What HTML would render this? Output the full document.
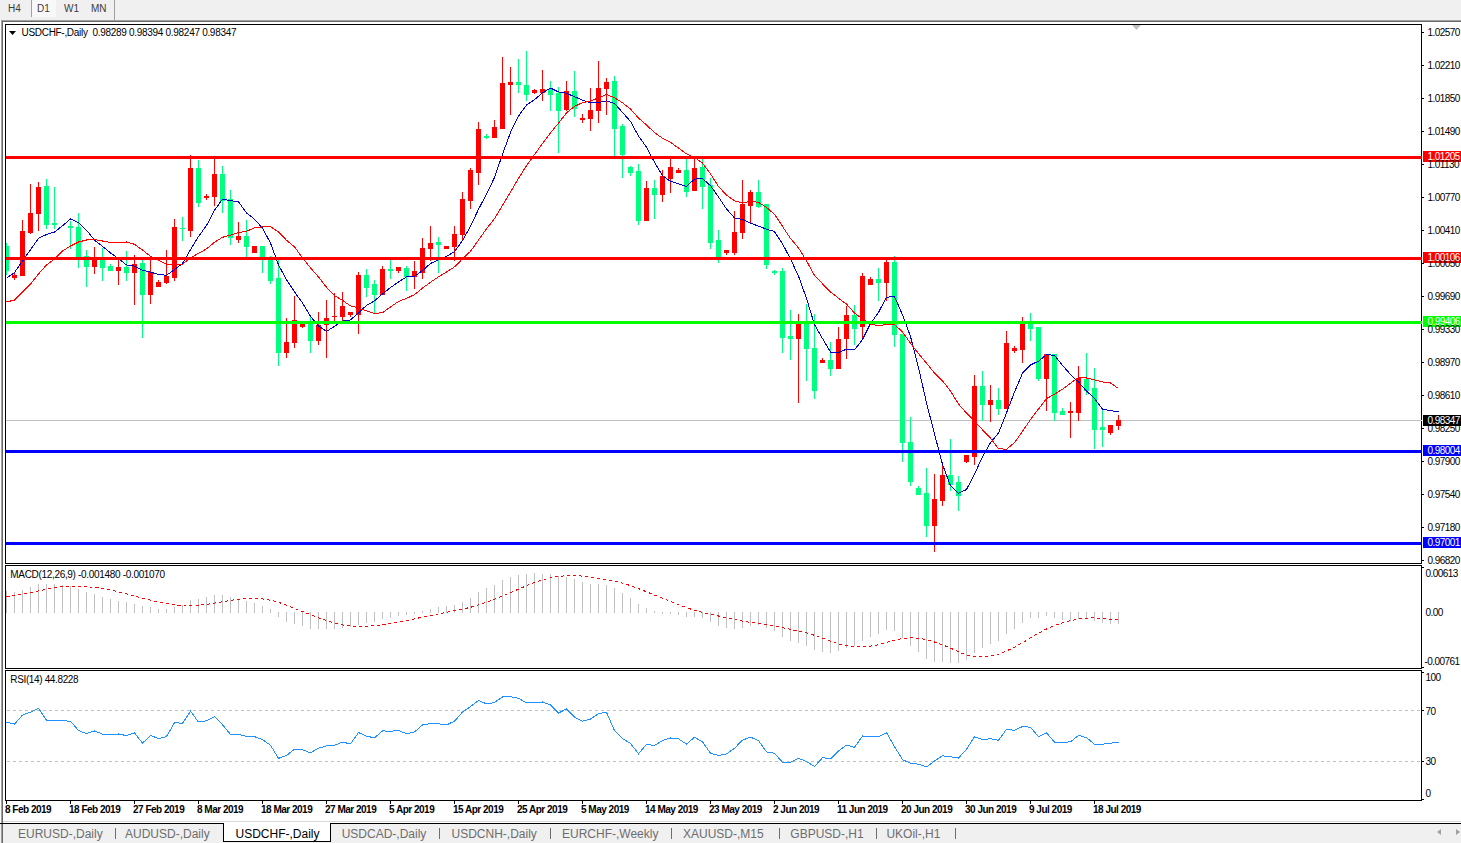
<!DOCTYPE html>
<html><head><meta charset="utf-8"><style>
html,body{margin:0;padding:0;background:#fff;width:1461px;height:843px;overflow:hidden;position:relative;font-family:"Liberation Sans", sans-serif;}
.tb{position:absolute;left:0;top:0;width:1461px;height:20px;background:#f0f0f0;}
.tbt{position:absolute;top:3px;font-size:10px;color:#3c3c3c;letter-spacing:0px;line-height:12px;}
.bar{position:absolute;left:0;top:823px;width:1461px;height:20px;background:#f0f0f0;border-top:1px solid #000;box-sizing:border-box;}
.tab{position:absolute;top:827px;font-size:12px;line-height:15px;color:#6d6d6d;white-space:pre;}
.sep{position:absolute;top:828px;width:1px;height:11px;background:#6d6d6d;}
</style></head><body>
<div class="tb"></div>
<div style="position:absolute;left:31px;top:0;width:1px;height:17px;background:#a0a0a0"></div>
<div style="position:absolute;left:32px;top:0;width:24px;height:17px;background:#f8f8f8"></div>
<div style="position:absolute;left:114px;top:0;width:1px;height:20px;background:#a0a0a0"></div>
<div class="tbt" style="left:8px">H4</div>
<div class="tbt" style="left:37px">D1</div>
<div class="tbt" style="left:64px">W1</div>
<div class="tbt" style="left:91px">MN</div>
<div style="position:absolute;left:1px;top:20px;width:1460px;height:1px;background:#a0a0a0"></div>
<div style="position:absolute;left:1px;top:21px;width:1460px;height:1px;background:#696969"></div>
<div style="position:absolute;left:1px;top:20px;width:1px;height:803px;background:#a0a0a0"></div>
<div style="position:absolute;left:2px;top:21px;width:1px;height:802px;background:#696969"></div>
<div style="position:absolute;left:3px;top:821px;width:1458px;height:1px;background:#d8d8d8"></div>
<div class="bar"></div>
<div style="position:absolute;left:1px;top:824px;width:1px;height:19px;background:#a0a0a0"></div>
<div style="position:absolute;left:2px;top:824px;width:1px;height:19px;background:#696969"></div>
<div class="tab" style="left:18px">EURUSD-,Daily</div><div class="sep" style="left:115px"></div><div class="tab" style="left:125px">AUDUSD-,Daily</div><div class="tab" style="left:341.7px">USDCAD-,Daily</div><div class="sep" style="left:439px"></div><div class="tab" style="left:451.5px">USDCNH-,Daily</div><div class="sep" style="left:550px"></div><div class="tab" style="left:562px">EURCHF-,Weekly</div><div class="sep" style="left:671px"></div><div class="tab" style="left:683px">XAUUSD-,M15</div><div class="sep" style="left:779px"></div><div class="tab" style="left:790.3px">GBPUSD-,H1</div><div class="sep" style="left:876px"></div><div class="tab" style="left:886.4px">UKOil-,H1</div><div class="sep" style="left:955px"></div>
<div style="position:absolute;left:223px;top:823px;width:108px;height:19px;background:#fff;border:1px solid #000;border-top:none;box-sizing:border-box"></div>
<div class="tab" style="left:235.5px;color:#000">USDCHF-,Daily</div>
<div style="position:absolute;left:1437px;top:829px;width:0;height:0;border-top:3.5px solid transparent;border-bottom:3.5px solid transparent;border-right:4px solid #a0a0a0"></div>
<div style="position:absolute;left:1456px;top:829px;width:0;height:0;border-top:3.5px solid transparent;border-bottom:3.5px solid transparent;border-left:4px solid #a0a0a0"></div>
<svg width="1461" height="843" style="position:absolute;left:0;top:0" shape-rendering="crispEdges">
<defs><clipPath id="cm"><rect x="6" y="25" width="1415" height="538"/></clipPath><clipPath id="cd"><rect x="6" y="566" width="1415" height="102"/></clipPath><clipPath id="cr"><rect x="6" y="671" width="1415" height="129"/></clipPath></defs>
<g clip-path="url(#cm)">
<rect x="6" y="420" width="1415" height="1" fill="#c0c0c0"/>
<rect x="6" y="243" width="1" height="32" fill="#00ff7f"/>
<rect x="4" y="246" width="5" height="25" fill="#00ff7f"/>
<rect x="14" y="272" width="1" height="8" fill="#ff0000"/>
<rect x="12" y="275" width="5" height="3" fill="#ff0000"/>
<rect x="22" y="220" width="1" height="56" fill="#ff0000"/>
<rect x="20" y="231" width="5" height="45" fill="#ff0000"/>
<rect x="30" y="184" width="1" height="50" fill="#ff0000"/>
<rect x="28" y="213" width="5" height="20" fill="#ff0000"/>
<rect x="38" y="182" width="1" height="49" fill="#ff0000"/>
<rect x="36" y="187" width="5" height="27" fill="#ff0000"/>
<rect x="46" y="179" width="1" height="50" fill="#00ff7f"/>
<rect x="44" y="186" width="5" height="39" fill="#00ff7f"/>
<rect x="54" y="187" width="1" height="42" fill="#00ff7f"/>
<rect x="52" y="223" width="5" height="2" fill="#00ff7f"/>
<rect x="70" y="221" width="1" height="28" fill="#00ff7f"/>
<rect x="68" y="226" width="5" height="2" fill="#00ff7f"/>
<rect x="78" y="213" width="1" height="55" fill="#00ff7f"/>
<rect x="76" y="227" width="5" height="30" fill="#00ff7f"/>
<rect x="86" y="250" width="1" height="37" fill="#00ff7f"/>
<rect x="84" y="256" width="5" height="11" fill="#00ff7f"/>
<rect x="94" y="247" width="1" height="27" fill="#ff0000"/>
<rect x="92" y="257" width="5" height="10" fill="#ff0000"/>
<rect x="102" y="248" width="1" height="33" fill="#00ff7f"/>
<rect x="100" y="260" width="5" height="8" fill="#00ff7f"/>
<rect x="110" y="264" width="1" height="7" fill="#00ff7f"/>
<rect x="108" y="266" width="5" height="5" fill="#00ff7f"/>
<rect x="118" y="259" width="1" height="26" fill="#ff0000"/>
<rect x="116" y="267" width="5" height="4" fill="#ff0000"/>
<rect x="126" y="251" width="1" height="30" fill="#00ff7f"/>
<rect x="124" y="267" width="5" height="6" fill="#00ff7f"/>
<rect x="134" y="255" width="1" height="50" fill="#ff0000"/>
<rect x="132" y="264" width="5" height="9" fill="#ff0000"/>
<rect x="142" y="259" width="1" height="79" fill="#00ff7f"/>
<rect x="140" y="263" width="5" height="32" fill="#00ff7f"/>
<rect x="150" y="256" width="1" height="48" fill="#ff0000"/>
<rect x="148" y="272" width="5" height="23" fill="#ff0000"/>
<rect x="158" y="280" width="1" height="7" fill="#ff0000"/>
<rect x="156" y="282" width="5" height="5" fill="#ff0000"/>
<rect x="166" y="250" width="1" height="34" fill="#ff0000"/>
<rect x="164" y="276" width="5" height="7" fill="#ff0000"/>
<rect x="174" y="219" width="1" height="62" fill="#ff0000"/>
<rect x="172" y="227" width="5" height="51" fill="#ff0000"/>
<rect x="182" y="217" width="1" height="24" fill="#00ff7f"/>
<rect x="180" y="228" width="5" height="1" fill="#00ff7f"/>
<rect x="190" y="155" width="1" height="82" fill="#ff0000"/>
<rect x="188" y="168" width="5" height="63" fill="#ff0000"/>
<rect x="198" y="160" width="1" height="47" fill="#00ff7f"/>
<rect x="196" y="168" width="5" height="35" fill="#00ff7f"/>
<rect x="206" y="194" width="1" height="6" fill="#ff0000"/>
<rect x="204" y="196" width="5" height="2" fill="#ff0000"/>
<rect x="214" y="158" width="1" height="48" fill="#ff0000"/>
<rect x="212" y="174" width="5" height="23" fill="#ff0000"/>
<rect x="222" y="166" width="1" height="47" fill="#00ff7f"/>
<rect x="220" y="174" width="5" height="27" fill="#00ff7f"/>
<rect x="230" y="190" width="1" height="55" fill="#00ff7f"/>
<rect x="228" y="199" width="5" height="39" fill="#00ff7f"/>
<rect x="238" y="222" width="1" height="21" fill="#ff0000"/>
<rect x="236" y="236" width="5" height="4" fill="#ff0000"/>
<rect x="246" y="220" width="1" height="37" fill="#00ff7f"/>
<rect x="244" y="236" width="5" height="11" fill="#00ff7f"/>
<rect x="254" y="246" width="1" height="7" fill="#ff0000"/>
<rect x="252" y="246" width="5" height="7" fill="#ff0000"/>
<rect x="262" y="246" width="1" height="27" fill="#00ff7f"/>
<rect x="260" y="246" width="5" height="13" fill="#00ff7f"/>
<rect x="270" y="256" width="1" height="28" fill="#00ff7f"/>
<rect x="268" y="258" width="5" height="23" fill="#00ff7f"/>
<rect x="278" y="260" width="1" height="106" fill="#00ff7f"/>
<rect x="276" y="278" width="5" height="75" fill="#00ff7f"/>
<rect x="286" y="318" width="1" height="40" fill="#ff0000"/>
<rect x="284" y="342" width="5" height="11" fill="#ff0000"/>
<rect x="294" y="296" width="1" height="52" fill="#ff0000"/>
<rect x="292" y="320" width="5" height="23" fill="#ff0000"/>
<rect x="302" y="323" width="1" height="5" fill="#ff0000"/>
<rect x="300" y="324" width="5" height="3" fill="#ff0000"/>
<rect x="310" y="317" width="1" height="36" fill="#00ff7f"/>
<rect x="308" y="322" width="5" height="19" fill="#00ff7f"/>
<rect x="318" y="312" width="1" height="33" fill="#ff0000"/>
<rect x="316" y="325" width="5" height="16" fill="#ff0000"/>
<rect x="326" y="300" width="1" height="58" fill="#ff0000"/>
<rect x="324" y="318" width="5" height="7" fill="#ff0000"/>
<rect x="334" y="293" width="1" height="28" fill="#ff0000"/>
<rect x="332" y="316" width="5" height="1" fill="#ff0000"/>
<rect x="342" y="292" width="1" height="29" fill="#ff0000"/>
<rect x="340" y="306" width="5" height="11" fill="#ff0000"/>
<rect x="350" y="312" width="1" height="5" fill="#ff0000"/>
<rect x="348" y="312" width="5" height="3" fill="#ff0000"/>
<rect x="358" y="272" width="1" height="62" fill="#ff0000"/>
<rect x="356" y="275" width="5" height="40" fill="#ff0000"/>
<rect x="366" y="269" width="1" height="28" fill="#00ff7f"/>
<rect x="364" y="275" width="5" height="13" fill="#00ff7f"/>
<rect x="374" y="280" width="1" height="33" fill="#00ff7f"/>
<rect x="372" y="284" width="5" height="11" fill="#00ff7f"/>
<rect x="382" y="266" width="1" height="29" fill="#ff0000"/>
<rect x="380" y="269" width="5" height="26" fill="#ff0000"/>
<rect x="390" y="260" width="1" height="19" fill="#00ff7f"/>
<rect x="388" y="269" width="5" height="2" fill="#00ff7f"/>
<rect x="398" y="267" width="1" height="6" fill="#ff0000"/>
<rect x="396" y="267" width="5" height="4" fill="#ff0000"/>
<rect x="406" y="266" width="1" height="25" fill="#00ff7f"/>
<rect x="404" y="268" width="5" height="9" fill="#00ff7f"/>
<rect x="414" y="261" width="1" height="28" fill="#ff0000"/>
<rect x="412" y="271" width="5" height="6" fill="#ff0000"/>
<rect x="422" y="238" width="1" height="41" fill="#ff0000"/>
<rect x="420" y="248" width="5" height="25" fill="#ff0000"/>
<rect x="430" y="226" width="1" height="35" fill="#ff0000"/>
<rect x="428" y="243" width="5" height="6" fill="#ff0000"/>
<rect x="438" y="237" width="1" height="36" fill="#00ff7f"/>
<rect x="436" y="242" width="5" height="3" fill="#00ff7f"/>
<rect x="446" y="246" width="1" height="3" fill="#ff0000"/>
<rect x="444" y="246" width="5" height="3" fill="#ff0000"/>
<rect x="454" y="226" width="1" height="35" fill="#ff0000"/>
<rect x="452" y="234" width="5" height="13" fill="#ff0000"/>
<rect x="462" y="192" width="1" height="48" fill="#ff0000"/>
<rect x="460" y="199" width="5" height="36" fill="#ff0000"/>
<rect x="470" y="168" width="1" height="41" fill="#ff0000"/>
<rect x="468" y="170" width="5" height="31" fill="#ff0000"/>
<rect x="478" y="122" width="1" height="63" fill="#ff0000"/>
<rect x="476" y="129" width="5" height="44" fill="#ff0000"/>
<rect x="486" y="134" width="1" height="5" fill="#00ff7f"/>
<rect x="484" y="136" width="5" height="2" fill="#00ff7f"/>
<rect x="494" y="120" width="1" height="18" fill="#ff0000"/>
<rect x="492" y="127" width="5" height="11" fill="#ff0000"/>
<rect x="502" y="57" width="1" height="72" fill="#ff0000"/>
<rect x="500" y="83" width="5" height="46" fill="#ff0000"/>
<rect x="510" y="67" width="1" height="48" fill="#ff0000"/>
<rect x="508" y="82" width="5" height="3" fill="#ff0000"/>
<rect x="518" y="59" width="1" height="34" fill="#00ff7f"/>
<rect x="516" y="82" width="5" height="3" fill="#00ff7f"/>
<rect x="526" y="51" width="1" height="50" fill="#00ff7f"/>
<rect x="524" y="85" width="5" height="10" fill="#00ff7f"/>
<rect x="534" y="89" width="1" height="5" fill="#ff0000"/>
<rect x="532" y="90" width="5" height="3" fill="#ff0000"/>
<rect x="542" y="70" width="1" height="31" fill="#ff0000"/>
<rect x="540" y="89" width="5" height="4" fill="#ff0000"/>
<rect x="550" y="81" width="1" height="30" fill="#00ff7f"/>
<rect x="548" y="89" width="5" height="6" fill="#00ff7f"/>
<rect x="558" y="87" width="1" height="66" fill="#00ff7f"/>
<rect x="556" y="93" width="5" height="18" fill="#00ff7f"/>
<rect x="566" y="81" width="1" height="30" fill="#ff0000"/>
<rect x="564" y="91" width="5" height="19" fill="#ff0000"/>
<rect x="574" y="71" width="1" height="46" fill="#00ff7f"/>
<rect x="572" y="91" width="5" height="18" fill="#00ff7f"/>
<rect x="582" y="114" width="1" height="9" fill="#ff0000"/>
<rect x="580" y="118" width="5" height="2" fill="#ff0000"/>
<rect x="590" y="88" width="1" height="43" fill="#ff0000"/>
<rect x="588" y="110" width="5" height="9" fill="#ff0000"/>
<rect x="598" y="61" width="1" height="62" fill="#ff0000"/>
<rect x="596" y="88" width="5" height="23" fill="#ff0000"/>
<rect x="606" y="78" width="1" height="37" fill="#ff0000"/>
<rect x="604" y="82" width="5" height="7" fill="#ff0000"/>
<rect x="614" y="76" width="1" height="81" fill="#00ff7f"/>
<rect x="612" y="81" width="5" height="48" fill="#00ff7f"/>
<rect x="622" y="124" width="1" height="54" fill="#00ff7f"/>
<rect x="620" y="126" width="5" height="29" fill="#00ff7f"/>
<rect x="630" y="166" width="1" height="10" fill="#00ff7f"/>
<rect x="628" y="167" width="5" height="6" fill="#00ff7f"/>
<rect x="638" y="164" width="1" height="61" fill="#00ff7f"/>
<rect x="636" y="171" width="5" height="50" fill="#00ff7f"/>
<rect x="646" y="181" width="1" height="40" fill="#ff0000"/>
<rect x="644" y="188" width="5" height="33" fill="#ff0000"/>
<rect x="654" y="180" width="1" height="39" fill="#00ff7f"/>
<rect x="652" y="188" width="5" height="7" fill="#00ff7f"/>
<rect x="662" y="170" width="1" height="32" fill="#ff0000"/>
<rect x="660" y="176" width="5" height="19" fill="#ff0000"/>
<rect x="670" y="158" width="1" height="35" fill="#ff0000"/>
<rect x="668" y="167" width="5" height="12" fill="#ff0000"/>
<rect x="678" y="168" width="1" height="5" fill="#ff0000"/>
<rect x="676" y="170" width="5" height="3" fill="#ff0000"/>
<rect x="686" y="159" width="1" height="38" fill="#00ff7f"/>
<rect x="684" y="170" width="5" height="22" fill="#00ff7f"/>
<rect x="694" y="158" width="1" height="33" fill="#ff0000"/>
<rect x="692" y="168" width="5" height="23" fill="#ff0000"/>
<rect x="702" y="159" width="1" height="50" fill="#00ff7f"/>
<rect x="700" y="167" width="5" height="20" fill="#00ff7f"/>
<rect x="710" y="178" width="1" height="71" fill="#00ff7f"/>
<rect x="708" y="185" width="5" height="58" fill="#00ff7f"/>
<rect x="718" y="230" width="1" height="33" fill="#00ff7f"/>
<rect x="716" y="240" width="5" height="17" fill="#00ff7f"/>
<rect x="726" y="250" width="1" height="5" fill="#ff0000"/>
<rect x="724" y="250" width="5" height="3" fill="#ff0000"/>
<rect x="734" y="211" width="1" height="44" fill="#ff0000"/>
<rect x="732" y="232" width="5" height="21" fill="#ff0000"/>
<rect x="742" y="180" width="1" height="59" fill="#ff0000"/>
<rect x="740" y="204" width="5" height="29" fill="#ff0000"/>
<rect x="750" y="190" width="1" height="33" fill="#ff0000"/>
<rect x="748" y="192" width="5" height="14" fill="#ff0000"/>
<rect x="758" y="180" width="1" height="28" fill="#00ff7f"/>
<rect x="756" y="192" width="5" height="15" fill="#00ff7f"/>
<rect x="766" y="204" width="1" height="65" fill="#00ff7f"/>
<rect x="764" y="204" width="5" height="61" fill="#00ff7f"/>
<rect x="774" y="270" width="1" height="5" fill="#00ff7f"/>
<rect x="772" y="271" width="5" height="2" fill="#00ff7f"/>
<rect x="782" y="268" width="1" height="85" fill="#00ff7f"/>
<rect x="780" y="271" width="5" height="67" fill="#00ff7f"/>
<rect x="790" y="310" width="1" height="50" fill="#00ff7f"/>
<rect x="788" y="336" width="5" height="3" fill="#00ff7f"/>
<rect x="798" y="314" width="1" height="89" fill="#ff0000"/>
<rect x="796" y="324" width="5" height="15" fill="#ff0000"/>
<rect x="806" y="304" width="1" height="77" fill="#00ff7f"/>
<rect x="804" y="322" width="5" height="27" fill="#00ff7f"/>
<rect x="814" y="314" width="1" height="85" fill="#00ff7f"/>
<rect x="812" y="348" width="5" height="43" fill="#00ff7f"/>
<rect x="822" y="358" width="1" height="5" fill="#ff0000"/>
<rect x="820" y="360" width="5" height="3" fill="#ff0000"/>
<rect x="830" y="342" width="1" height="34" fill="#00ff7f"/>
<rect x="828" y="360" width="5" height="9" fill="#00ff7f"/>
<rect x="838" y="327" width="1" height="42" fill="#ff0000"/>
<rect x="836" y="339" width="5" height="30" fill="#ff0000"/>
<rect x="846" y="306" width="1" height="53" fill="#ff0000"/>
<rect x="844" y="315" width="5" height="24" fill="#ff0000"/>
<rect x="854" y="305" width="1" height="40" fill="#00ff7f"/>
<rect x="852" y="315" width="5" height="14" fill="#00ff7f"/>
<rect x="862" y="273" width="1" height="67" fill="#ff0000"/>
<rect x="860" y="276" width="5" height="51" fill="#ff0000"/>
<rect x="870" y="277" width="1" height="8" fill="#ff0000"/>
<rect x="868" y="279" width="5" height="6" fill="#ff0000"/>
<rect x="878" y="268" width="1" height="33" fill="#00ff7f"/>
<rect x="876" y="279" width="5" height="4" fill="#00ff7f"/>
<rect x="886" y="260" width="1" height="41" fill="#ff0000"/>
<rect x="884" y="262" width="5" height="21" fill="#ff0000"/>
<rect x="894" y="256" width="1" height="91" fill="#00ff7f"/>
<rect x="892" y="262" width="5" height="73" fill="#00ff7f"/>
<rect x="902" y="334" width="1" height="128" fill="#00ff7f"/>
<rect x="900" y="334" width="5" height="109" fill="#00ff7f"/>
<rect x="910" y="417" width="1" height="69" fill="#00ff7f"/>
<rect x="908" y="442" width="5" height="40" fill="#00ff7f"/>
<rect x="918" y="486" width="1" height="9" fill="#00ff7f"/>
<rect x="916" y="488" width="5" height="7" fill="#00ff7f"/>
<rect x="926" y="468" width="1" height="69" fill="#00ff7f"/>
<rect x="924" y="493" width="5" height="33" fill="#00ff7f"/>
<rect x="934" y="474" width="1" height="78" fill="#ff0000"/>
<rect x="932" y="499" width="5" height="27" fill="#ff0000"/>
<rect x="942" y="466" width="1" height="40" fill="#ff0000"/>
<rect x="940" y="475" width="5" height="26" fill="#ff0000"/>
<rect x="950" y="439" width="1" height="52" fill="#00ff7f"/>
<rect x="948" y="475" width="5" height="10" fill="#00ff7f"/>
<rect x="958" y="476" width="1" height="35" fill="#00ff7f"/>
<rect x="956" y="482" width="5" height="14" fill="#00ff7f"/>
<rect x="966" y="455" width="1" height="8" fill="#ff0000"/>
<rect x="964" y="455" width="5" height="7" fill="#ff0000"/>
<rect x="974" y="375" width="1" height="90" fill="#ff0000"/>
<rect x="972" y="386" width="5" height="71" fill="#ff0000"/>
<rect x="982" y="371" width="1" height="50" fill="#00ff7f"/>
<rect x="980" y="386" width="5" height="19" fill="#00ff7f"/>
<rect x="990" y="385" width="1" height="37" fill="#ff0000"/>
<rect x="988" y="400" width="5" height="5" fill="#ff0000"/>
<rect x="998" y="388" width="1" height="27" fill="#00ff7f"/>
<rect x="996" y="400" width="5" height="9" fill="#00ff7f"/>
<rect x="1006" y="331" width="1" height="78" fill="#ff0000"/>
<rect x="1004" y="343" width="5" height="66" fill="#ff0000"/>
<rect x="1014" y="346" width="1" height="7" fill="#ff0000"/>
<rect x="1012" y="348" width="5" height="3" fill="#ff0000"/>
<rect x="1022" y="317" width="1" height="46" fill="#ff0000"/>
<rect x="1020" y="324" width="5" height="26" fill="#ff0000"/>
<rect x="1030" y="313" width="1" height="28" fill="#00ff7f"/>
<rect x="1028" y="324" width="5" height="5" fill="#00ff7f"/>
<rect x="1038" y="327" width="1" height="54" fill="#00ff7f"/>
<rect x="1036" y="327" width="5" height="52" fill="#00ff7f"/>
<rect x="1046" y="354" width="1" height="57" fill="#ff0000"/>
<rect x="1044" y="354" width="5" height="25" fill="#ff0000"/>
<rect x="1054" y="354" width="1" height="67" fill="#00ff7f"/>
<rect x="1052" y="354" width="5" height="59" fill="#00ff7f"/>
<rect x="1062" y="408" width="1" height="7" fill="#00ff7f"/>
<rect x="1060" y="411" width="5" height="4" fill="#00ff7f"/>
<rect x="1070" y="402" width="1" height="36" fill="#ff0000"/>
<rect x="1068" y="411" width="5" height="2" fill="#ff0000"/>
<rect x="1078" y="366" width="1" height="55" fill="#ff0000"/>
<rect x="1076" y="378" width="5" height="35" fill="#ff0000"/>
<rect x="1086" y="353" width="1" height="42" fill="#00ff7f"/>
<rect x="1084" y="379" width="5" height="12" fill="#00ff7f"/>
<rect x="1094" y="368" width="1" height="81" fill="#00ff7f"/>
<rect x="1092" y="388" width="5" height="42" fill="#00ff7f"/>
<rect x="1102" y="408" width="1" height="39" fill="#00ff7f"/>
<rect x="1100" y="427" width="5" height="3" fill="#00ff7f"/>
<rect x="1110" y="425" width="1" height="10" fill="#ff0000"/>
<rect x="1108" y="425" width="5" height="8" fill="#ff0000"/>
<rect x="1118" y="415" width="1" height="15" fill="#ff0000"/>
<rect x="1116" y="420" width="5" height="6" fill="#ff0000"/>
<polyline points="6.5,278.2 14.5,272.5 22.5,261.1 30.5,249.7 38.5,238.3 46.5,234.5 54.5,232.0 62.5,225.8 70.5,218.9 78.5,222.6 86.5,230.2 94.5,240.2 102.5,246.4 110.5,252.9 118.5,258.6 126.5,265.0 134.5,266.1 142.5,270.1 150.5,272.2 158.5,274.4 166.5,275.3 174.5,269.6 182.5,263.4 190.5,249.8 198.5,236.5 206.5,225.6 214.5,210.1 222.5,199.3 230.5,200.7 238.5,201.8 246.5,212.9 254.5,219.2 262.5,228.1 270.5,243.1 278.5,264.8 286.5,279.8 294.5,291.9 302.5,303.0 310.5,316.4 318.5,326.0 326.5,331.4 334.5,326.3 342.5,321.1 350.5,319.9 358.5,312.9 366.5,305.4 374.5,300.9 382.5,294.0 390.5,287.5 398.5,282.0 406.5,276.9 414.5,276.3 422.5,270.7 430.5,263.5 438.5,259.9 446.5,256.4 454.5,251.7 462.5,240.6 470.5,226.3 478.5,209.3 486.5,194.1 494.5,177.5 502.5,154.2 510.5,132.4 518.5,116.1 526.5,105.1 534.5,99.6 542.5,92.8 550.5,88.1 558.5,91.9 566.5,93.3 574.5,96.7 582.5,100.1 590.5,102.8 598.5,102.6 606.5,100.9 614.5,103.4 622.5,112.4 630.5,121.4 638.5,136.0 646.5,147.2 654.5,162.3 662.5,175.7 670.5,181.4 678.5,183.7 686.5,186.4 694.5,179.1 702.5,178.7 710.5,185.6 718.5,197.0 726.5,208.9 734.5,217.9 742.5,219.6 750.5,223.1 758.5,226.1 766.5,229.1 774.5,231.6 782.5,243.9 790.5,258.9 798.5,276.1 806.5,298.4 814.5,324.7 822.5,338.5 830.5,352.1 838.5,352.4 846.5,349.2 854.5,349.9 862.5,339.6 870.5,323.6 878.5,312.4 886.5,297.2 894.5,296.6 902.5,314.8 910.5,336.6 918.5,367.6 926.5,402.8 934.5,433.9 942.5,464.4 950.5,485.7 958.5,493.2 966.5,489.5 974.5,474.1 982.5,456.7 990.5,442.6 998.5,433.1 1006.5,412.9 1014.5,392.0 1022.5,373.2 1030.5,364.9 1038.5,361.2 1046.5,354.7 1054.5,355.3 1062.5,365.4 1070.5,374.4 1078.5,382.1 1086.5,391.0 1094.5,398.4 1102.5,409.0 1110.5,410.8 1118.5,411.6" fill="none" stroke="#0000cd" stroke-width="1" />
<polyline points="6.5,302.0 14.5,300.0 22.5,292.0 30.5,284.0 38.5,274.0 46.5,265.0 54.5,259.0 62.5,251.0 70.5,246.0 78.5,242.0 86.5,240.0 94.5,239.5 102.5,241.0 110.5,242.4 118.5,242.2 126.5,242.0 134.5,244.3 142.5,250.1 150.5,256.2 158.5,260.4 166.5,264.1 174.5,264.1 182.5,264.2 190.5,257.9 198.5,253.3 206.5,248.9 214.5,242.2 222.5,237.3 230.5,235.1 238.5,232.6 246.5,231.3 254.5,227.9 262.5,226.8 270.5,226.6 278.5,232.0 286.5,240.2 294.5,246.8 302.5,257.9 310.5,267.8 318.5,277.0 326.5,287.3 334.5,295.5 342.5,300.4 350.5,305.9 358.5,308.0 366.5,310.9 374.5,313.5 382.5,312.7 390.5,306.9 398.5,301.5 406.5,298.4 414.5,294.6 422.5,288.1 430.5,282.2 438.5,276.9 446.5,272.0 454.5,266.9 462.5,258.8 470.5,251.3 478.5,240.0 486.5,228.8 494.5,218.7 502.5,205.3 510.5,192.1 518.5,178.4 526.5,165.7 534.5,154.5 542.5,143.5 550.5,132.8 558.5,123.1 566.5,112.9 574.5,106.4 582.5,102.6 590.5,101.2 598.5,97.7 606.5,94.5 614.5,97.7 622.5,102.8 630.5,109.1 638.5,118.0 646.5,125.0 654.5,132.5 662.5,138.3 670.5,142.4 678.5,148.0 686.5,153.9 694.5,157.5 702.5,163.0 710.5,174.0 718.5,186.4 726.5,195.1 734.5,200.8 742.5,203.0 750.5,201.1 758.5,202.4 766.5,207.4 774.5,214.3 782.5,226.4 790.5,238.4 798.5,247.9 806.5,260.8 814.5,275.4 822.5,283.8 830.5,291.9 838.5,298.2 846.5,304.1 854.5,313.0 862.5,319.0 870.5,324.2 878.5,325.5 886.5,324.7 894.5,324.5 902.5,332.0 910.5,343.2 918.5,353.6 926.5,363.2 934.5,373.1 942.5,380.8 950.5,391.1 958.5,404.0 966.5,413.1 974.5,420.9 982.5,429.8 990.5,438.2 998.5,448.7 1006.5,449.3 1014.5,442.6 1022.5,431.4 1030.5,419.5 1038.5,409.0 1046.5,398.6 1054.5,394.2 1062.5,389.2 1070.5,383.2 1078.5,377.6 1086.5,378.0 1094.5,379.8 1102.5,381.9 1110.5,383.0 1118.5,388.5" fill="none" stroke="#ff0000" stroke-width="1" />
<rect x="6" y="156" width="1415" height="3" fill="#ff0000"/>
<rect x="6" y="257" width="1415" height="3" fill="#ff0000"/>
<rect x="6" y="321" width="1415" height="3" fill="#00ff00"/>
<rect x="6" y="450" width="1415" height="3" fill="#0000ff"/>
<rect x="6" y="542" width="1415" height="3" fill="#0000ff"/>
<polygon points="1132,25 1141,25 1136.5,30" fill="#c0c0c0" shape-rendering="auto"/>
</g>
<g clip-path="url(#cd)">
<rect x="6" y="591" width="1" height="22" fill="#c0c0c0"/>
<rect x="14" y="592" width="1" height="21" fill="#c0c0c0"/>
<rect x="22" y="590" width="1" height="23" fill="#c0c0c0"/>
<rect x="30" y="587" width="1" height="26" fill="#c0c0c0"/>
<rect x="38" y="584" width="1" height="29" fill="#c0c0c0"/>
<rect x="46" y="584" width="1" height="29" fill="#c0c0c0"/>
<rect x="54" y="584" width="1" height="29" fill="#c0c0c0"/>
<rect x="62" y="585" width="1" height="28" fill="#c0c0c0"/>
<rect x="70" y="586" width="1" height="27" fill="#c0c0c0"/>
<rect x="78" y="589" width="1" height="24" fill="#c0c0c0"/>
<rect x="86" y="592" width="1" height="21" fill="#c0c0c0"/>
<rect x="94" y="594" width="1" height="19" fill="#c0c0c0"/>
<rect x="102" y="597" width="1" height="16" fill="#c0c0c0"/>
<rect x="110" y="599" width="1" height="14" fill="#c0c0c0"/>
<rect x="118" y="601" width="1" height="12" fill="#c0c0c0"/>
<rect x="126" y="602" width="1" height="11" fill="#c0c0c0"/>
<rect x="134" y="604" width="1" height="9" fill="#c0c0c0"/>
<rect x="142" y="606" width="1" height="7" fill="#c0c0c0"/>
<rect x="150" y="607" width="1" height="6" fill="#c0c0c0"/>
<rect x="158" y="609" width="1" height="4" fill="#c0c0c0"/>
<rect x="166" y="609" width="1" height="4" fill="#c0c0c0"/>
<rect x="174" y="607" width="1" height="6" fill="#c0c0c0"/>
<rect x="182" y="605" width="1" height="8" fill="#c0c0c0"/>
<rect x="190" y="600" width="1" height="13" fill="#c0c0c0"/>
<rect x="198" y="599" width="1" height="14" fill="#c0c0c0"/>
<rect x="206" y="597" width="1" height="16" fill="#c0c0c0"/>
<rect x="214" y="595" width="1" height="18" fill="#c0c0c0"/>
<rect x="222" y="595" width="1" height="18" fill="#c0c0c0"/>
<rect x="230" y="597" width="1" height="16" fill="#c0c0c0"/>
<rect x="238" y="599" width="1" height="14" fill="#c0c0c0"/>
<rect x="246" y="601" width="1" height="12" fill="#c0c0c0"/>
<rect x="254" y="603" width="1" height="10" fill="#c0c0c0"/>
<rect x="262" y="606" width="1" height="7" fill="#c0c0c0"/>
<rect x="270" y="609" width="1" height="4" fill="#c0c0c0"/>
<rect x="278" y="612" width="1" height="5" fill="#c0c0c0"/>
<rect x="286" y="612" width="1" height="10" fill="#c0c0c0"/>
<rect x="294" y="612" width="1" height="12" fill="#c0c0c0"/>
<rect x="302" y="612" width="1" height="14" fill="#c0c0c0"/>
<rect x="310" y="612" width="1" height="17" fill="#c0c0c0"/>
<rect x="318" y="612" width="1" height="17" fill="#c0c0c0"/>
<rect x="326" y="612" width="1" height="17" fill="#c0c0c0"/>
<rect x="334" y="612" width="1" height="17" fill="#c0c0c0"/>
<rect x="342" y="612" width="1" height="16" fill="#c0c0c0"/>
<rect x="350" y="612" width="1" height="15" fill="#c0c0c0"/>
<rect x="358" y="612" width="1" height="13" fill="#c0c0c0"/>
<rect x="366" y="612" width="1" height="11" fill="#c0c0c0"/>
<rect x="374" y="612" width="1" height="10" fill="#c0c0c0"/>
<rect x="382" y="612" width="1" height="7" fill="#c0c0c0"/>
<rect x="390" y="612" width="1" height="6" fill="#c0c0c0"/>
<rect x="398" y="612" width="1" height="4" fill="#c0c0c0"/>
<rect x="406" y="612" width="1" height="3" fill="#c0c0c0"/>
<rect x="414" y="612" width="1" height="2" fill="#c0c0c0"/>
<rect x="422" y="611" width="1" height="2" fill="#c0c0c0"/>
<rect x="430" y="609" width="1" height="4" fill="#c0c0c0"/>
<rect x="438" y="607" width="1" height="6" fill="#c0c0c0"/>
<rect x="446" y="606" width="1" height="7" fill="#c0c0c0"/>
<rect x="454" y="605" width="1" height="8" fill="#c0c0c0"/>
<rect x="462" y="602" width="1" height="11" fill="#c0c0c0"/>
<rect x="470" y="598" width="1" height="15" fill="#c0c0c0"/>
<rect x="478" y="592" width="1" height="21" fill="#c0c0c0"/>
<rect x="486" y="588" width="1" height="25" fill="#c0c0c0"/>
<rect x="494" y="585" width="1" height="28" fill="#c0c0c0"/>
<rect x="502" y="580" width="1" height="33" fill="#c0c0c0"/>
<rect x="510" y="577" width="1" height="36" fill="#c0c0c0"/>
<rect x="518" y="575" width="1" height="38" fill="#c0c0c0"/>
<rect x="526" y="574" width="1" height="39" fill="#c0c0c0"/>
<rect x="534" y="573" width="1" height="40" fill="#c0c0c0"/>
<rect x="542" y="574" width="1" height="39" fill="#c0c0c0"/>
<rect x="550" y="574" width="1" height="39" fill="#c0c0c0"/>
<rect x="558" y="576" width="1" height="37" fill="#c0c0c0"/>
<rect x="566" y="577" width="1" height="36" fill="#c0c0c0"/>
<rect x="574" y="579" width="1" height="34" fill="#c0c0c0"/>
<rect x="582" y="582" width="1" height="31" fill="#c0c0c0"/>
<rect x="590" y="584" width="1" height="29" fill="#c0c0c0"/>
<rect x="598" y="584" width="1" height="29" fill="#c0c0c0"/>
<rect x="606" y="585" width="1" height="28" fill="#c0c0c0"/>
<rect x="614" y="588" width="1" height="25" fill="#c0c0c0"/>
<rect x="622" y="593" width="1" height="20" fill="#c0c0c0"/>
<rect x="630" y="598" width="1" height="15" fill="#c0c0c0"/>
<rect x="638" y="604" width="1" height="9" fill="#c0c0c0"/>
<rect x="646" y="608" width="1" height="5" fill="#c0c0c0"/>
<rect x="654" y="611" width="1" height="2" fill="#c0c0c0"/>
<rect x="662" y="612" width="1" height="2" fill="#c0c0c0"/>
<rect x="670" y="612" width="1" height="2" fill="#c0c0c0"/>
<rect x="678" y="612" width="1" height="3" fill="#c0c0c0"/>
<rect x="686" y="612" width="1" height="5" fill="#c0c0c0"/>
<rect x="694" y="612" width="1" height="5" fill="#c0c0c0"/>
<rect x="702" y="612" width="1" height="6" fill="#c0c0c0"/>
<rect x="710" y="612" width="1" height="10" fill="#c0c0c0"/>
<rect x="718" y="612" width="1" height="14" fill="#c0c0c0"/>
<rect x="726" y="612" width="1" height="16" fill="#c0c0c0"/>
<rect x="734" y="612" width="1" height="17" fill="#c0c0c0"/>
<rect x="742" y="612" width="1" height="16" fill="#c0c0c0"/>
<rect x="750" y="612" width="1" height="14" fill="#c0c0c0"/>
<rect x="758" y="612" width="1" height="13" fill="#c0c0c0"/>
<rect x="766" y="612" width="1" height="16" fill="#c0c0c0"/>
<rect x="774" y="612" width="1" height="19" fill="#c0c0c0"/>
<rect x="782" y="612" width="1" height="25" fill="#c0c0c0"/>
<rect x="790" y="612" width="1" height="29" fill="#c0c0c0"/>
<rect x="798" y="612" width="1" height="31" fill="#c0c0c0"/>
<rect x="806" y="612" width="1" height="34" fill="#c0c0c0"/>
<rect x="814" y="612" width="1" height="38" fill="#c0c0c0"/>
<rect x="822" y="612" width="1" height="40" fill="#c0c0c0"/>
<rect x="830" y="612" width="1" height="41" fill="#c0c0c0"/>
<rect x="838" y="612" width="1" height="39" fill="#c0c0c0"/>
<rect x="846" y="612" width="1" height="36" fill="#c0c0c0"/>
<rect x="854" y="612" width="1" height="34" fill="#c0c0c0"/>
<rect x="862" y="612" width="1" height="29" fill="#c0c0c0"/>
<rect x="870" y="612" width="1" height="25" fill="#c0c0c0"/>
<rect x="878" y="612" width="1" height="22" fill="#c0c0c0"/>
<rect x="886" y="612" width="1" height="18" fill="#c0c0c0"/>
<rect x="894" y="612" width="1" height="19" fill="#c0c0c0"/>
<rect x="902" y="612" width="1" height="26" fill="#c0c0c0"/>
<rect x="910" y="612" width="1" height="34" fill="#c0c0c0"/>
<rect x="918" y="612" width="1" height="40" fill="#c0c0c0"/>
<rect x="926" y="612" width="1" height="47" fill="#c0c0c0"/>
<rect x="934" y="612" width="1" height="50" fill="#c0c0c0"/>
<rect x="942" y="612" width="1" height="50" fill="#c0c0c0"/>
<rect x="950" y="612" width="1" height="51" fill="#c0c0c0"/>
<rect x="958" y="612" width="1" height="51" fill="#c0c0c0"/>
<rect x="966" y="612" width="1" height="48" fill="#c0c0c0"/>
<rect x="974" y="612" width="1" height="41" fill="#c0c0c0"/>
<rect x="982" y="612" width="1" height="36" fill="#c0c0c0"/>
<rect x="990" y="612" width="1" height="32" fill="#c0c0c0"/>
<rect x="998" y="612" width="1" height="29" fill="#c0c0c0"/>
<rect x="1006" y="612" width="1" height="22" fill="#c0c0c0"/>
<rect x="1014" y="612" width="1" height="17" fill="#c0c0c0"/>
<rect x="1022" y="612" width="1" height="11" fill="#c0c0c0"/>
<rect x="1030" y="612" width="1" height="6" fill="#c0c0c0"/>
<rect x="1038" y="612" width="1" height="6" fill="#c0c0c0"/>
<rect x="1046" y="612" width="1" height="4" fill="#c0c0c0"/>
<rect x="1054" y="612" width="1" height="6" fill="#c0c0c0"/>
<rect x="1062" y="612" width="1" height="8" fill="#c0c0c0"/>
<rect x="1070" y="612" width="1" height="9" fill="#c0c0c0"/>
<rect x="1078" y="612" width="1" height="7" fill="#c0c0c0"/>
<rect x="1086" y="612" width="1" height="7" fill="#c0c0c0"/>
<rect x="1094" y="612" width="1" height="9" fill="#c0c0c0"/>
<rect x="1102" y="612" width="1" height="11" fill="#c0c0c0"/>
<rect x="1110" y="612" width="1" height="12" fill="#c0c0c0"/>
<rect x="1118" y="612" width="1" height="12" fill="#c0c0c0"/>
<polyline points="6.5,596.5 14.5,595.2 22.5,593.8 30.5,592.5 38.5,590.9 46.5,589.4 54.5,587.8 62.5,586.3 70.5,587.0 78.5,586.8 86.5,586.8 94.5,587.3 102.5,588.4 110.5,590.0 118.5,591.9 126.5,593.9 134.5,595.9 142.5,598.2 150.5,600.2 158.5,602.0 166.5,603.7 174.5,604.9 182.5,605.6 190.5,605.5 198.5,605.1 206.5,604.4 214.5,603.1 222.5,601.7 230.5,600.4 238.5,599.2 246.5,598.6 254.5,598.4 262.5,599.0 270.5,600.2 278.5,602.3 286.5,605.2 294.5,608.4 302.5,611.5 310.5,614.7 318.5,617.7 326.5,620.5 334.5,623.0 342.5,625.0 350.5,626.1 358.5,626.4 366.5,626.3 374.5,625.8 382.5,624.8 390.5,623.4 398.5,621.9 406.5,620.4 414.5,618.9 422.5,617.1 430.5,615.5 438.5,613.9 446.5,612.3 454.5,610.8 462.5,609.2 470.5,607.3 478.5,604.9 486.5,602.1 494.5,599.3 502.5,596.1 510.5,592.7 518.5,589.1 526.5,585.7 534.5,582.5 542.5,579.8 550.5,577.8 558.5,576.5 566.5,575.6 574.5,575.5 582.5,576.1 590.5,577.2 598.5,578.3 606.5,579.6 614.5,581.2 622.5,583.2 630.5,585.6 638.5,588.6 646.5,591.8 654.5,595.0 662.5,598.2 670.5,601.4 678.5,604.7 686.5,607.7 694.5,610.3 702.5,612.4 710.5,614.2 718.5,616.0 726.5,617.8 734.5,619.6 742.5,621.1 750.5,622.4 758.5,623.3 766.5,624.6 774.5,626.1 782.5,627.7 790.5,629.4 798.5,631.0 806.5,632.8 814.5,635.3 822.5,638.2 830.5,641.2 838.5,643.8 846.5,645.7 854.5,646.8 862.5,646.8 870.5,646.1 878.5,644.8 886.5,642.5 894.5,640.1 902.5,638.5 910.5,637.9 918.5,638.3 926.5,639.7 934.5,642.0 942.5,644.8 950.5,648.1 958.5,651.8 966.5,655.0 974.5,656.7 982.5,657.0 990.5,656.1 998.5,654.1 1006.5,651.0 1014.5,647.2 1022.5,642.8 1030.5,637.8 1038.5,633.1 1046.5,629.0 1054.5,625.6 1062.5,622.9 1070.5,620.7 1078.5,619.1 1086.5,618.1 1094.5,617.9 1102.5,618.4 1110.5,619.1 1118.5,620.0" fill="none" stroke="#ff0000" stroke-width="1" stroke-dasharray="3,3"/>
</g>
<g clip-path="url(#cr)">
<line x1="7" y1="710.5" x2="1421" y2="710.5" stroke="#c0c0c0" stroke-width="1" stroke-dasharray="3,3"/>
<line x1="7" y1="761.5" x2="1421" y2="761.5" stroke="#c0c0c0" stroke-width="1" stroke-dasharray="3,3"/>
<polyline points="6.5,722.3 14.5,724.0 22.5,715.1 30.5,712.1 38.5,708.1 46.5,720.1 54.5,720.1 62.5,720.9 70.5,721.1 78.5,730.6 86.5,733.5 94.5,731.0 102.5,734.1 110.5,734.8 118.5,734.0 126.5,735.6 134.5,733.0 142.5,743.2 150.5,735.4 158.5,738.6 166.5,736.5 174.5,722.7 182.5,723.2 190.5,711.3 198.5,722.0 206.5,720.8 214.5,716.8 222.5,724.8 230.5,734.4 238.5,734.1 246.5,736.6 254.5,736.6 262.5,739.7 270.5,745.2 278.5,758.4 286.5,755.5 294.5,749.2 302.5,749.8 310.5,752.8 318.5,748.2 326.5,745.9 334.5,745.3 342.5,742.1 350.5,743.9 358.5,732.6 366.5,736.1 374.5,737.9 382.5,730.9 390.5,731.3 398.5,730.4 406.5,733.7 414.5,731.9 422.5,725.0 430.5,723.6 438.5,723.8 446.5,724.9 454.5,721.2 462.5,712.1 470.5,706.6 478.5,700.4 486.5,703.9 494.5,702.5 502.5,697.0 510.5,696.8 518.5,698.3 526.5,702.8 534.5,702.3 542.5,702.0 550.5,704.8 558.5,713.1 566.5,708.9 574.5,717.2 582.5,721.2 590.5,719.0 598.5,713.7 606.5,712.3 614.5,730.7 622.5,738.6 630.5,743.5 638.5,753.8 646.5,744.3 654.5,745.5 662.5,740.5 670.5,738.0 678.5,738.8 686.5,744.1 694.5,737.3 702.5,741.8 710.5,753.3 718.5,755.5 726.5,753.9 734.5,748.3 742.5,740.1 750.5,737.1 758.5,740.6 766.5,751.9 774.5,753.3 782.5,762.3 790.5,762.4 798.5,758.2 806.5,761.6 814.5,766.5 822.5,757.7 830.5,758.8 838.5,751.0 846.5,745.1 854.5,747.3 862.5,736.0 870.5,736.5 878.5,737.0 886.5,732.6 894.5,746.6 902.5,759.7 910.5,763.2 918.5,764.2 926.5,766.9 934.5,761.0 942.5,755.8 950.5,756.8 958.5,758.0 966.5,749.2 974.5,736.7 982.5,739.4 990.5,738.8 998.5,740.2 1006.5,729.3 1014.5,730.3 1022.5,726.5 1030.5,727.3 1038.5,736.7 1046.5,732.8 1054.5,742.1 1062.5,742.4 1070.5,741.8 1078.5,735.4 1086.5,737.7 1094.5,744.2 1102.5,744.2 1110.5,743.3 1118.5,742.1" fill="none" stroke="#1e90ff" stroke-width="1"/>
</g>
<rect x="5" y="24" width="1417" height="1" fill="#000"/>
<rect x="5" y="563" width="1417" height="1" fill="#000"/>
<rect x="5" y="24" width="1" height="540" fill="#000"/>
<rect x="1421" y="24" width="1" height="540" fill="#000"/>
<rect x="5" y="565" width="1417" height="1" fill="#000"/>
<rect x="5" y="668" width="1417" height="1" fill="#000"/>
<rect x="5" y="565" width="1" height="104" fill="#000"/>
<rect x="1421" y="565" width="1" height="104" fill="#000"/>
<rect x="5" y="670" width="1417" height="1" fill="#000"/>
<rect x="5" y="800" width="1417" height="1" fill="#000"/>
<rect x="5" y="670" width="1" height="131" fill="#000"/>
<rect x="1421" y="670" width="1" height="131" fill="#000"/>
<rect x="1421" y="32" width="3" height="1" fill="#000"/>
<rect x="1421" y="65" width="3" height="1" fill="#000"/>
<rect x="1421" y="98" width="3" height="1" fill="#000"/>
<rect x="1421" y="131" width="3" height="1" fill="#000"/>
<rect x="1421" y="164" width="3" height="1" fill="#000"/>
<rect x="1421" y="197" width="3" height="1" fill="#000"/>
<rect x="1421" y="230" width="3" height="1" fill="#000"/>
<rect x="1421" y="263" width="3" height="1" fill="#000"/>
<rect x="1421" y="296" width="3" height="1" fill="#000"/>
<rect x="1421" y="329" width="3" height="1" fill="#000"/>
<rect x="1421" y="362" width="3" height="1" fill="#000"/>
<rect x="1421" y="395" width="3" height="1" fill="#000"/>
<rect x="1421" y="428" width="3" height="1" fill="#000"/>
<rect x="1421" y="461" width="3" height="1" fill="#000"/>
<rect x="1421" y="494" width="3" height="1" fill="#000"/>
<rect x="1421" y="527" width="3" height="1" fill="#000"/>
<rect x="1421" y="560" width="3" height="1" fill="#000"/>
<rect x="1421" y="567" width="3" height="1" fill="#000"/>
<rect x="1421" y="667" width="3" height="1" fill="#000"/>
<rect x="1421" y="672" width="3" height="1" fill="#000"/>
<rect x="1421" y="710" width="3" height="1" fill="#000"/>
<rect x="1421" y="761" width="3" height="1" fill="#000"/>
<rect x="1421" y="799" width="3" height="1" fill="#000"/>
<rect x="1421" y="156" width="1" height="3" fill="#ff0000"/>
<rect x="1422" y="156" width="1" height="3" fill="#fff"/>
<rect x="1423" y="151" width="38" height="11" fill="#ff0000"/>
<rect x="1421" y="257" width="1" height="3" fill="#ff0000"/>
<rect x="1422" y="257" width="1" height="3" fill="#fff"/>
<rect x="1423" y="252" width="38" height="11" fill="#ff0000"/>
<rect x="1421" y="321" width="1" height="3" fill="#00ff00"/>
<rect x="1422" y="321" width="1" height="3" fill="#fff"/>
<rect x="1423" y="316" width="38" height="11" fill="#00ff00"/>
<rect x="1421" y="420" width="2" height="1" fill="#fff"/>
<rect x="1423" y="415" width="38" height="11" fill="#000000"/>
<rect x="1421" y="450" width="1" height="3" fill="#0000ff"/>
<rect x="1422" y="450" width="1" height="3" fill="#fff"/>
<rect x="1423" y="445" width="38" height="11" fill="#0000ff"/>
<rect x="1421" y="542" width="1" height="3" fill="#0000ff"/>
<rect x="1422" y="542" width="1" height="3" fill="#fff"/>
<rect x="1423" y="537" width="38" height="11" fill="#0000ff"/>
<rect x="6" y="800" width="1" height="4" fill="#000"/>
<rect x="70" y="800" width="1" height="4" fill="#000"/>
<rect x="134" y="800" width="1" height="4" fill="#000"/>
<rect x="198" y="800" width="1" height="4" fill="#000"/>
<rect x="262" y="800" width="1" height="4" fill="#000"/>
<rect x="326" y="800" width="1" height="4" fill="#000"/>
<rect x="390" y="800" width="1" height="4" fill="#000"/>
<rect x="454" y="800" width="1" height="4" fill="#000"/>
<rect x="518" y="800" width="1" height="4" fill="#000"/>
<rect x="582" y="800" width="1" height="4" fill="#000"/>
<rect x="646" y="800" width="1" height="4" fill="#000"/>
<rect x="710" y="800" width="1" height="4" fill="#000"/>
<rect x="774" y="800" width="1" height="4" fill="#000"/>
<rect x="838" y="800" width="1" height="4" fill="#000"/>
<rect x="902" y="800" width="1" height="4" fill="#000"/>
<rect x="966" y="800" width="1" height="4" fill="#000"/>
<rect x="1030" y="800" width="1" height="4" fill="#000"/>
<rect x="1094" y="800" width="1" height="4" fill="#000"/>
<polygon points="9,31 16,31 12.5,35" fill="#000" shape-rendering="auto"/>
<g shape-rendering="auto">
<text xml:space="preserve" x="1427.5" y="36" font-family="Liberation Sans, sans-serif" font-size="10" fill="#000" font-weight="normal" letter-spacing="-0.55" text-anchor="start">1.02570</text>
<text xml:space="preserve" x="1427.5" y="69" font-family="Liberation Sans, sans-serif" font-size="10" fill="#000" font-weight="normal" letter-spacing="-0.55" text-anchor="start">1.02210</text>
<text xml:space="preserve" x="1427.5" y="102" font-family="Liberation Sans, sans-serif" font-size="10" fill="#000" font-weight="normal" letter-spacing="-0.55" text-anchor="start">1.01850</text>
<text xml:space="preserve" x="1427.5" y="135" font-family="Liberation Sans, sans-serif" font-size="10" fill="#000" font-weight="normal" letter-spacing="-0.55" text-anchor="start">1.01490</text>
<text xml:space="preserve" x="1427.5" y="168" font-family="Liberation Sans, sans-serif" font-size="10" fill="#000" font-weight="normal" letter-spacing="-0.55" text-anchor="start">1.01130</text>
<text xml:space="preserve" x="1427.5" y="201" font-family="Liberation Sans, sans-serif" font-size="10" fill="#000" font-weight="normal" letter-spacing="-0.55" text-anchor="start">1.00770</text>
<text xml:space="preserve" x="1427.5" y="234" font-family="Liberation Sans, sans-serif" font-size="10" fill="#000" font-weight="normal" letter-spacing="-0.55" text-anchor="start">1.00410</text>
<text xml:space="preserve" x="1427.5" y="267" font-family="Liberation Sans, sans-serif" font-size="10" fill="#000" font-weight="normal" letter-spacing="-0.55" text-anchor="start">1.00050</text>
<text xml:space="preserve" x="1427.5" y="300" font-family="Liberation Sans, sans-serif" font-size="10" fill="#000" font-weight="normal" letter-spacing="-0.55" text-anchor="start">0.99690</text>
<text xml:space="preserve" x="1427.5" y="333" font-family="Liberation Sans, sans-serif" font-size="10" fill="#000" font-weight="normal" letter-spacing="-0.55" text-anchor="start">0.99330</text>
<text xml:space="preserve" x="1427.5" y="366" font-family="Liberation Sans, sans-serif" font-size="10" fill="#000" font-weight="normal" letter-spacing="-0.55" text-anchor="start">0.98970</text>
<text xml:space="preserve" x="1427.5" y="399" font-family="Liberation Sans, sans-serif" font-size="10" fill="#000" font-weight="normal" letter-spacing="-0.55" text-anchor="start">0.98610</text>
<text xml:space="preserve" x="1427.5" y="432" font-family="Liberation Sans, sans-serif" font-size="10" fill="#000" font-weight="normal" letter-spacing="-0.55" text-anchor="start">0.98250</text>
<text xml:space="preserve" x="1427.5" y="465" font-family="Liberation Sans, sans-serif" font-size="10" fill="#000" font-weight="normal" letter-spacing="-0.55" text-anchor="start">0.97900</text>
<text xml:space="preserve" x="1427.5" y="498" font-family="Liberation Sans, sans-serif" font-size="10" fill="#000" font-weight="normal" letter-spacing="-0.55" text-anchor="start">0.97540</text>
<text xml:space="preserve" x="1427.5" y="531" font-family="Liberation Sans, sans-serif" font-size="10" fill="#000" font-weight="normal" letter-spacing="-0.55" text-anchor="start">0.97180</text>
<text xml:space="preserve" x="1427.5" y="564" font-family="Liberation Sans, sans-serif" font-size="10" fill="#000" font-weight="normal" letter-spacing="-0.55" text-anchor="start">0.96820</text>
<text xml:space="preserve" x="1425.5" y="577" font-family="Liberation Sans, sans-serif" font-size="10" fill="#000" font-weight="normal" letter-spacing="-0.55" text-anchor="start">0.00613</text>
<text xml:space="preserve" x="1425.5" y="616" font-family="Liberation Sans, sans-serif" font-size="10" fill="#000" font-weight="normal" letter-spacing="-0.55" text-anchor="start">0.00</text>
<text xml:space="preserve" x="1424.5" y="665" font-family="Liberation Sans, sans-serif" font-size="10" fill="#000" font-weight="normal" letter-spacing="-0.55" text-anchor="start">-0.00761</text>
<text xml:space="preserve" x="1425.5" y="681" font-family="Liberation Sans, sans-serif" font-size="10" fill="#000" font-weight="normal" letter-spacing="-0.55" text-anchor="start">100</text>
<text xml:space="preserve" x="1425.5" y="715" font-family="Liberation Sans, sans-serif" font-size="10" fill="#000" font-weight="normal" letter-spacing="-0.55" text-anchor="start">70</text>
<text xml:space="preserve" x="1425.5" y="765" font-family="Liberation Sans, sans-serif" font-size="10" fill="#000" font-weight="normal" letter-spacing="-0.55" text-anchor="start">30</text>
<text xml:space="preserve" x="1425.5" y="797" font-family="Liberation Sans, sans-serif" font-size="10" fill="#000" font-weight="normal" letter-spacing="-0.55" text-anchor="start">0</text>
<text xml:space="preserve" x="1427.5" y="160" font-family="Liberation Sans, sans-serif" font-size="10" fill="#fff" font-weight="normal" letter-spacing="-0.55" text-anchor="start">1.01205</text>
<text xml:space="preserve" x="1427.5" y="261" font-family="Liberation Sans, sans-serif" font-size="10" fill="#fff" font-weight="normal" letter-spacing="-0.55" text-anchor="start">1.00106</text>
<text xml:space="preserve" x="1427.5" y="325" font-family="Liberation Sans, sans-serif" font-size="10" fill="#fff" font-weight="normal" letter-spacing="-0.55" text-anchor="start">0.99406</text>
<text xml:space="preserve" x="1427.5" y="424" font-family="Liberation Sans, sans-serif" font-size="10" fill="#fff" font-weight="normal" letter-spacing="-0.55" text-anchor="start">0.98347</text>
<text xml:space="preserve" x="1427.5" y="454" font-family="Liberation Sans, sans-serif" font-size="10" fill="#fff" font-weight="normal" letter-spacing="-0.55" text-anchor="start">0.98004</text>
<text xml:space="preserve" x="1427.5" y="546" font-family="Liberation Sans, sans-serif" font-size="10" fill="#fff" font-weight="normal" letter-spacing="-0.55" text-anchor="start">0.97001</text>
<text xml:space="preserve" x="5" y="813" font-family="Liberation Sans, sans-serif" font-size="10" fill="#000" font-weight="bold" letter-spacing="-0.5" text-anchor="start">8 Feb 2019</text>
<text xml:space="preserve" x="69" y="813" font-family="Liberation Sans, sans-serif" font-size="10" fill="#000" font-weight="bold" letter-spacing="-0.5" text-anchor="start">18 Feb 2019</text>
<text xml:space="preserve" x="133" y="813" font-family="Liberation Sans, sans-serif" font-size="10" fill="#000" font-weight="bold" letter-spacing="-0.5" text-anchor="start">27 Feb 2019</text>
<text xml:space="preserve" x="197" y="813" font-family="Liberation Sans, sans-serif" font-size="10" fill="#000" font-weight="bold" letter-spacing="-0.5" text-anchor="start">8 Mar 2019</text>
<text xml:space="preserve" x="261" y="813" font-family="Liberation Sans, sans-serif" font-size="10" fill="#000" font-weight="bold" letter-spacing="-0.5" text-anchor="start">18 Mar 2019</text>
<text xml:space="preserve" x="325" y="813" font-family="Liberation Sans, sans-serif" font-size="10" fill="#000" font-weight="bold" letter-spacing="-0.5" text-anchor="start">27 Mar 2019</text>
<text xml:space="preserve" x="389" y="813" font-family="Liberation Sans, sans-serif" font-size="10" fill="#000" font-weight="bold" letter-spacing="-0.5" text-anchor="start">5 Apr 2019</text>
<text xml:space="preserve" x="453" y="813" font-family="Liberation Sans, sans-serif" font-size="10" fill="#000" font-weight="bold" letter-spacing="-0.5" text-anchor="start">15 Apr 2019</text>
<text xml:space="preserve" x="517" y="813" font-family="Liberation Sans, sans-serif" font-size="10" fill="#000" font-weight="bold" letter-spacing="-0.5" text-anchor="start">25 Apr 2019</text>
<text xml:space="preserve" x="581" y="813" font-family="Liberation Sans, sans-serif" font-size="10" fill="#000" font-weight="bold" letter-spacing="-0.5" text-anchor="start">5 May 2019</text>
<text xml:space="preserve" x="645" y="813" font-family="Liberation Sans, sans-serif" font-size="10" fill="#000" font-weight="bold" letter-spacing="-0.5" text-anchor="start">14 May 2019</text>
<text xml:space="preserve" x="709" y="813" font-family="Liberation Sans, sans-serif" font-size="10" fill="#000" font-weight="bold" letter-spacing="-0.5" text-anchor="start">23 May 2019</text>
<text xml:space="preserve" x="773" y="813" font-family="Liberation Sans, sans-serif" font-size="10" fill="#000" font-weight="bold" letter-spacing="-0.5" text-anchor="start">2 Jun 2019</text>
<text xml:space="preserve" x="837" y="813" font-family="Liberation Sans, sans-serif" font-size="10" fill="#000" font-weight="bold" letter-spacing="-0.5" text-anchor="start">11 Jun 2019</text>
<text xml:space="preserve" x="901" y="813" font-family="Liberation Sans, sans-serif" font-size="10" fill="#000" font-weight="bold" letter-spacing="-0.5" text-anchor="start">20 Jun 2019</text>
<text xml:space="preserve" x="965" y="813" font-family="Liberation Sans, sans-serif" font-size="10" fill="#000" font-weight="bold" letter-spacing="-0.5" text-anchor="start">30 Jun 2019</text>
<text xml:space="preserve" x="1029" y="813" font-family="Liberation Sans, sans-serif" font-size="10" fill="#000" font-weight="bold" letter-spacing="-0.5" text-anchor="start">9 Jul 2019</text>
<text xml:space="preserve" x="1093" y="813" font-family="Liberation Sans, sans-serif" font-size="10" fill="#000" font-weight="bold" letter-spacing="-0.5" text-anchor="start">18 Jul 2019</text>
<text xml:space="preserve" x="21.5" y="36" font-family="Liberation Sans, sans-serif" font-size="10" fill="#000" font-weight="normal" letter-spacing="-0.3" text-anchor="start">USDCHF-,Daily  0.98289 0.98394 0.98247 0.98347</text>
<text xml:space="preserve" x="10.3" y="578" font-family="Liberation Sans, sans-serif" font-size="10" fill="#000" font-weight="normal" letter-spacing="-0.32" text-anchor="start">MACD(12,26,9) -0.001480 -0.001070</text>
<text xml:space="preserve" x="10.3" y="683" font-family="Liberation Sans, sans-serif" font-size="10" fill="#000" font-weight="normal" letter-spacing="-0.36" text-anchor="start">RSI(14) 44.8228</text>
</g>
</svg>
</body></html>
